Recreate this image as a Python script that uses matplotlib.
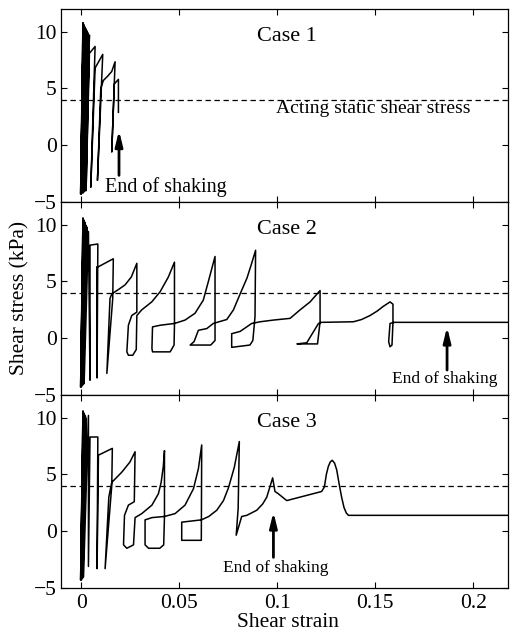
import matplotlib
matplotlib.use('Agg')
import matplotlib.pyplot as plt
import numpy as np

plt.rcParams['font.family'] = ['Liberation Serif', 'DejaVu Serif']
plt.rcParams['axes.unicode_minus'] = True

# stress-strain paths: (shear strain, shear stress kPa)
case1 = [(0.0000, 0.0), (0.0008, 10.8), (-0.0004, -4.3), (0.0010, 10.7), (-0.0003, -4.2),
         (0.0013, 10.6), (0.0000, -4.3), (0.0015, 10.5), (0.0003, -4.2), (0.0018, 10.4),
         (0.0006, -4.1), (0.0021, 10.3), (0.0009, -4.2), (0.0024, 10.2), (0.0012, -4.0),
         (0.0027, 10.1), (0.0015, -4.1), (0.0030, 10.0), (0.0018, -3.9), (0.0033, 9.9),
         (0.0020, -4.0), (0.0041, 9.7), (0.0024, -4.0), (0.0041, 8.1), (0.0070, 8.7),
         (0.0048, -3.7), (0.0070, 6.8), (0.0109, 8.0), (0.0082, -3.1), (0.0099, 5.0),
         (0.0112, 5.7), (0.0135, 6.1), (0.0155, 6.5), (0.0172, 7.35), (0.0155, -0.6),
         (0.0168, 5.4), (0.0189, 5.8), (0.0189, 2.9)]

case2 = [(0.0000, 0.0), (0.0008, 10.6), (-0.0004, -4.3), (0.0010, 10.5), (-0.0002, -4.2),
         (0.0012, 10.4), (0.0000, -4.3), (0.0015, 10.3), (0.0002, -4.2), (0.0018, 10.2),
         (0.0005, -4.1), (0.0021, 10.0), (0.0008, -4.1), (0.0024, 9.9), (0.0011, -4.0),
         (0.0028, 9.8), (0.0014, -4.0), (0.0036, 9.4), (0.0044, -3.7), (0.0044, 8.2),
         (0.0084, 8.3), (0.0080, -3.5), (0.0079, 6.3), (0.0087, 6.3), (0.0163, 7.0),
         (0.0160, 3.5), (0.0130, -3.1), (0.0146, 3.5), (0.0155, 3.9), (0.0190, 4.3),
         (0.0223, 4.7), (0.0255, 5.4), (0.0283, 6.6), (0.0283, 2.3), (0.0257, 2.0),
         (0.0240, 1.15), (0.0232, -1.2), (0.0240, -1.5), (0.0262, -1.5), (0.0280, -1.0),
         (0.0283, 2.0), (0.0308, 2.5), (0.0359, 3.2), (0.0402, 4.1), (0.0444, 5.4),
         (0.0475, 6.7), (0.0475, 1.15), (0.0473, -0.6), (0.0453, -1.2), (0.0363, -1.2),
         (0.0360, -0.9), (0.0363, 1.0), (0.0404, 1.15), (0.0475, 1.3), (0.0529, 1.6),
         (0.0580, 2.2), (0.0622, 3.35), (0.0648, 5.0), (0.0682, 7.2), (0.0682, -0.2),
         (0.0660, -0.6), (0.0555, -0.6), (0.0575, -0.3), (0.0597, 0.7), (0.0640, 0.85),
         (0.0673, 1.3), (0.0742, 1.65), (0.0776, 2.5), (0.0810, 3.9), (0.0845, 5.3),
         (0.0869, 6.6), (0.0889, 7.75), (0.0886, 1.9), (0.0875, -0.2), (0.0860, -0.6),
         (0.0767, -0.8), (0.0767, 0.4), (0.0810, 0.6), (0.0869, 1.3), (0.0912, 1.45),
         (0.0980, 1.6), (0.1065, 1.75), (0.1116, 2.5), (0.1167, 3.2), (0.1218, 4.2),
         (0.1218, 1.45), (0.1205, -0.5), (0.1100, -0.5), (0.1150, -0.4), (0.1210, 1.3),
         (0.1225, 1.4), (0.1388, 1.45), (0.1430, 1.65), (0.1473, 2.0), (0.1510, 2.4),
         (0.1540, 2.8), (0.1575, 3.2), (0.1590, 3.0), (0.1590, 1.4), (0.1585, -0.6),
         (0.1575, -0.75), (0.1568, -0.3), (0.1575, 1.3), (0.1595, 1.4), (0.2180, 1.4)]

case3 = [(0.0000, 0.0), (0.0008, 10.6), (-0.0004, -4.3), (0.0010, 10.5), (-0.0002, -4.2),
         (0.0012, 10.4), (0.0000, -4.3), (0.0015, 10.3), (0.0002, -4.2), (0.0018, 10.2),
         (0.0005, -4.1), (0.0021, 10.1), (0.0008, -4.1), (0.0025, 9.9), (0.0011, -4.0),
         (0.0036, 10.2), (0.0036, -3.1), (0.0044, 8.3), (0.0084, 8.3), (0.0080, -3.3),
         (0.0087, 6.7), (0.0158, 7.3), (0.0155, 4.0), (0.0121, -3.3), (0.0140, 3.0),
         (0.0155, 4.3), (0.0206, 5.2), (0.0248, 6.1), (0.0274, 7.0), (0.0270, 2.6),
         (0.0240, 2.3), (0.0220, 1.4), (0.0215, -1.2), (0.0232, -1.5), (0.0266, -1.2),
         (0.0274, 1.2), (0.0308, 1.55), (0.0360, 2.3), (0.0393, 3.3), (0.0407, 4.3),
         (0.0418, 5.7), (0.0424, 7.1), (0.0424, 1.25), (0.0420, -1.2), (0.0400, -1.5),
         (0.0343, -1.5), (0.0325, -1.2), (0.0325, 1.0), (0.0360, 1.2), (0.0424, 1.3),
         (0.0478, 1.55), (0.0529, 2.3), (0.0572, 3.75), (0.0597, 5.5), (0.0614, 7.6),
         (0.0612, -0.8), (0.0512, -0.8), (0.0512, 0.8), (0.0612, 1.0), (0.0650, 1.3),
         (0.0691, 1.85), (0.0725, 2.7), (0.0750, 3.8), (0.0780, 5.6), (0.0806, 7.9),
         (0.0800, 2.0), (0.0790, -0.35), (0.0818, 1.3), (0.0844, 1.4), (0.0895, 1.85),
         (0.0925, 2.4), (0.0946, 3.0), (0.0976, 4.7), (0.0988, 3.5), (0.1005, 3.3),
         (0.1048, 2.7), (0.1226, 3.5), (0.1240, 3.9), (0.1250, 5.0), (0.1260, 5.7),
         (0.1270, 6.1), (0.1280, 6.25), (0.1292, 6.0), (0.1303, 5.4), (0.1315, 4.2),
         (0.1328, 3.0), (0.1340, 2.1), (0.1352, 1.6), (0.1363, 1.4), (0.2180, 1.4)]

cases = [case1, case2, case3]
case_labels = ['Case 1', 'Case 2', 'Case 3']
static_stress = 4.0
# (text x, text baseline y, arrow x, arrow tail y, arrow tip y, fontsize)
shaking_end = [(0.0433, -4.15, 0.0192, -2.65, 1.3, 14.5),
               (0.1855, -3.95, 0.1866, -2.8, 1.0, 12.5),
               (0.0994, -3.6, 0.0980, -2.3, 1.7, 12.5)]

xticks = [0, 0.05, 0.1, 0.15, 0.2]
xtick_labels = ['0', '0.05', '0.1', '0.15', '0.2']
yticks = [-5, 0, 5, 10]

W, H = 513, 633
fig = plt.figure(figsize=(W / 100, H / 100), dpi=100)
left, right = 61 / W, 508 / W
tops = [9, 202, 395]
panel_h = 193

for i, path in enumerate(cases):
    ax = fig.add_axes([left, 1 - (tops[i] + panel_h) / H, right - left, panel_h / H])
    xs = [p[0] for p in path]
    ys = [p[1] for p in path]
    ax.plot(xs, ys, color='black', lw=1.1, solid_joinstyle='round')
    ax.axhline(static_stress, color='black', lw=0.9, ls=(0, (4.3, 2.9)))

    ax.set_xlim(-0.0104, 0.2177)
    ax.set_ylim(-5, 12)
    ax.set_xticks(xticks)
    ax.set_yticks(yticks)
    if i == 2:
        ax.set_xticklabels(xtick_labels)
    else:
        ax.set_xticklabels([])
    ax.tick_params(direction='in', top=True, right=True, length=4, width=0.8,
                   labelsize=15.5, pad=3)
    ax.tick_params(axis='x', pad=4)
    for s in ax.spines.values():
        s.set_linewidth(0.9)

    ax.text(0.1048, 9.2, case_labels[i], fontsize=16, ha='center', va='baseline')
    tx, ty, axx, ay0, ay1, fs = shaking_end[i]
    ax.text(tx, ty, 'End of shaking', fontsize=fs, ha='center', va='baseline')
    ax.annotate('', xy=(axx, ay1), xytext=(axx, ay0),
                arrowprops=dict(arrowstyle='-|>,head_width=0.22,head_length=0.9',
                                color='black', lw=2.0, shrinkA=0, shrinkB=0))
    if i == 0:
        ax.text(0.149, 2.8, 'Acting static shear stress', fontsize=14,
                ha='center', va='baseline')

fig.text(20 / W, 1 - 298 / H, 'Shear stress (kPa)', rotation=90, fontsize=15.5,
         ha='center', va='center')
fig.text(288 / W, 1 - 627 / H, 'Shear strain', fontsize=15.5, ha='center',
         va='baseline')

fig.savefig('out.png', dpi=100)
